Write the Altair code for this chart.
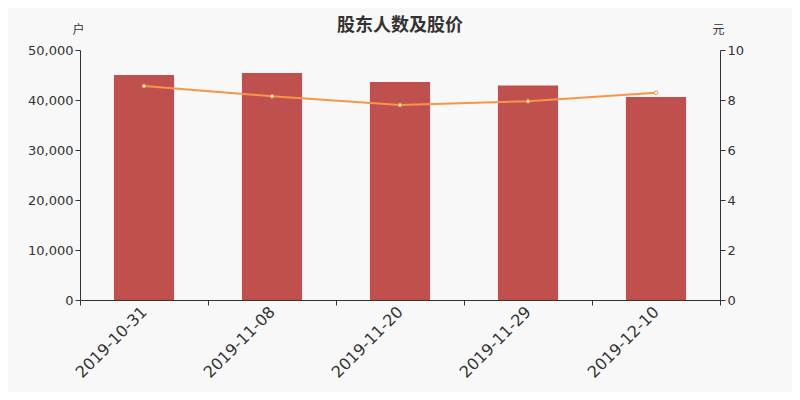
import altair as alt
import pandas as pd

dates = ["2019-10-31", "2019-11-08", "2019-11-20", "2019-11-29", "2019-12-10"]
holders = [45000, 45400, 43600, 42900, 40600]
prices = [8.56, 8.15, 7.80, 7.95, 8.29]

df = pd.DataFrame({"date": dates, "holders": holders, "price": prices})

FONT = "DejaVu Sans"
CJK = "Noto Sans CJK SC"

x = alt.X("date:N", sort=dates, title=None,
          scale=alt.Scale(paddingInner=0, paddingOuter=0),
          axis=alt.Axis(labelAngle=-45, labelAlign="right", labelBaseline="middle",
                        labelFontSize=16, labelColor="#333", labelFont=FONT,
                        tickBand="extent", tickSize=5, tickColor="#333",
                        domainColor="#333", labelPadding=4, labelOffset=0))

bars = alt.Chart(df).mark_bar(color="#c0504d", width=alt.RelativeBandSize(0.47)).encode(
    x=x,
    y=alt.Y("holders:Q", scale=alt.Scale(domain=[0, 50000]),
            axis=alt.Axis(title="户", titleAngle=0, titleX=-2, titleY=-14,
                          titleAlign="center", titleFont=CJK, titleFontSize=12,
                          titleFontWeight="normal", titleColor="#333",
                          values=[0, 10000, 20000, 30000, 40000, 50000], format=",.0f",
                          labelFontSize=13, labelColor="#333", labelFont=FONT,
                          tickColor="#333", domainColor="#333", grid=False, tickSize=5)),
)

line = alt.Chart(df).mark_line(color="#f79646", strokeWidth=2,
                               point=alt.OverlayMarkDef(filled=True, fill="white",
                                                        stroke="#f79646", size=14,
                                                        strokeWidth=1)).encode(
    x=x,
    y=alt.Y("price:Q", scale=alt.Scale(domain=[0, 10]),
            axis=alt.Axis(orient="right", title="元", titleAngle=0, titleX=-2, titleY=-14,
                          titleAlign="center", titleFont=CJK, titleFontSize=12,
                          titleFontWeight="normal", titleColor="#333",
                          values=[0, 2, 4, 6, 8, 10],
                          labelFontSize=13, labelColor="#333", labelFont=FONT,
                          tickColor="#333", domainColor="#333", grid=False, tickSize=5)),
)

chart = alt.layer(bars, line).resolve_scale(y="independent").properties(
    width=640, height=250,
    title=alt.TitleParams("股东人数及股价", font=CJK, fontSize=18, fontWeight="bold",
                          color="#333", anchor="middle", offset=0, dy=12),
    background="#f8f8f8",
    padding={"left": 72, "top": 42, "right": 72, "bottom": 92},
    autosize=alt.AutoSizeParams(type="none"),
).configure_view(stroke=None)

chart.save("out.html", embed_options={"renderer": "svg", "actions": False})
